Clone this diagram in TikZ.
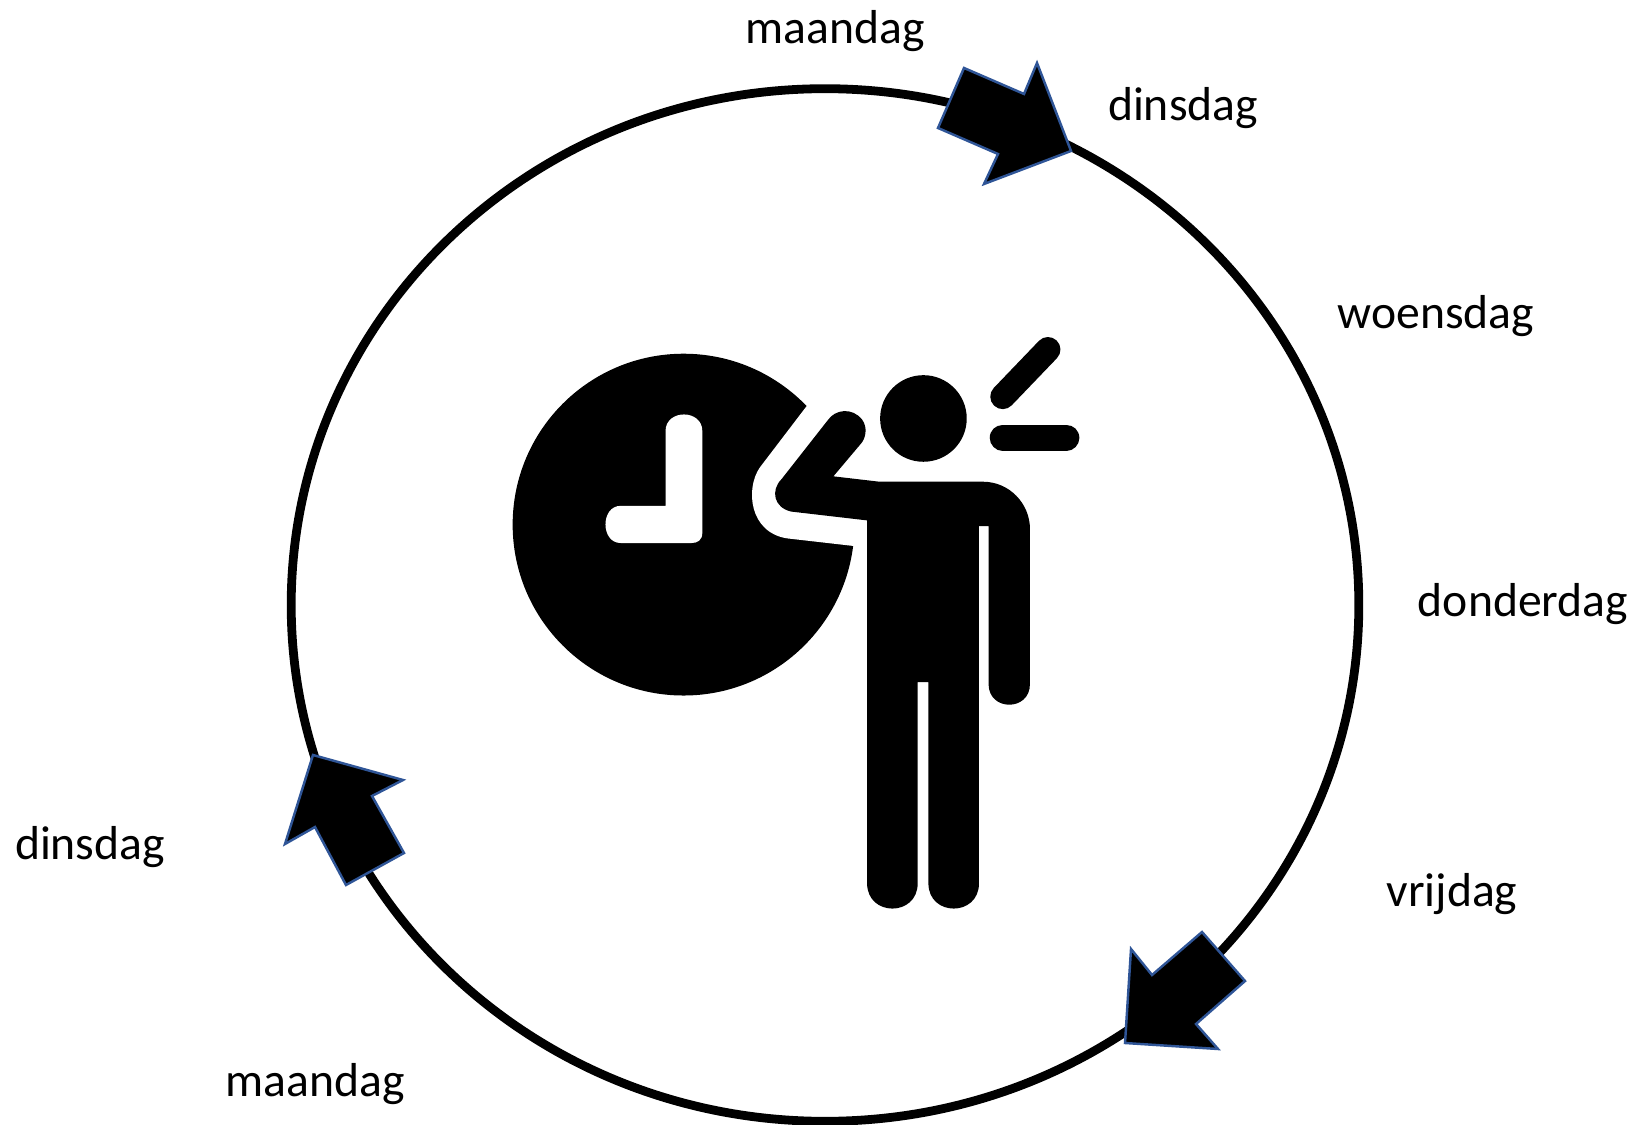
\documentclass[tikz,border=0pt]{standalone}
\usepackage{xcolor}
\usepackage{fontspec}
\setmainfont{Carlito}
\usepackage{tikz}
\usetikzlibrary{shapes.geometric}
\definecolor{myblue}{HTML}{2F5597}
\tikzstyle{daylabel} = [font=\fontsize{13.55pt}{16pt}\selectfont, inner sep=0pt, text=black]
\tikzstyle{dayarrow} = [fill=black, draw=myblue, line width=0.7pt, line join=miter]
\tikzstyle{ray} = [black, line cap=round]

\begin{document}
\begin{tikzpicture}[x=0.01cm,y=-0.01cm]
\useasboundingbox (0,0) rectangle (1637,1125);
\clip (0,0) rectangle (1637,1125);

% week ring
\node[ellipse, draw=black, line width=2.5pt, minimum width=10.67cm, minimum height=10.32cm, inner sep=0pt] (ring) at (825,605) {};

% arrows on the ring
\draw[dayarrow] (964,68) -- (1024,94) -- (1037,63) -- (1071,151) -- (984,184) -- (998,154) -- (938,128) -- cycle;
\draw[dayarrow] (1202,932) -- (1245,981) -- (1196,1024) -- (1218,1049) -- (1125,1043) -- (1131,949) -- (1152,975) -- cycle;
\draw[dayarrow] (313,755) -- (403,780) -- (372,796) -- (404,853) -- (346,885) -- (315,827) -- (285,844) -- cycle;

% days
\node[daylabel] (mon) at (835,31) {maandag};
\node[daylabel] (tue) at (1183,108) {dinsdag};
\node[daylabel] (wed) at (1436,316) {woensdag};
\node[daylabel] (thu) at (1523,604) {donderdag};
\node[daylabel] (fri) at (1452,894) {vrijdag};
\node[daylabel] (nextmon) at (315,1084) {maandag};
\node[daylabel] (nexttue) at (90,847) {dinsdag};

% person and clock
\begin{scope}[shift={(500,320)},x=0.003827cm,y=-0.003827cm]
\fill[black] (479,534) circle [radius=446];
\fill[white] (800,225) -- (678,385) .. controls (640,440) and (650,555) .. (750,570) -- (925,590) -- (960,590) -- (960,225) -- cycle;
\fill[white] (432,290) .. controls (432,232) and (528,232) .. (528,290) -- (528,555) .. controls (528,575) and (515,582) .. (500,582) -- (315,582) .. controls (262,582) and (262,485) .. (315,485) -- (432,485) -- cycle;
\fill[black] (1105,257) circle [radius=113];
\fill[black] (958,523) -- (760,500) .. controls (715,490) and (705,445) .. (735,415) -- (855,262) .. controls (875,232) and (920,228) .. (945,260) .. controls (960,280) and (955,310) .. (940,325) -- (870,408) -- (990,422) -- (1260,422) .. controls (1330,422) and (1383,480) .. (1383,545) -- (1383,950) .. controls (1383,1022) and (1275,1022) .. (1275,950) -- (1275,538) -- (1250,538) -- (1250,1470) .. controls (1250,1558) and (1118,1558) .. (1118,1470) -- (1118,945) -- (1090,945) -- (1090,1470) .. controls (1090,1558) and (958,1558) .. (958,1470) -- cycle;
\draw[ray, line width=7.1pt] (1312,200) -- (1430,77);
\draw[ray, line width=7.4pt] (1312,307) -- (1478,307);
\end{scope}
\end{tikzpicture}
\end{document}
